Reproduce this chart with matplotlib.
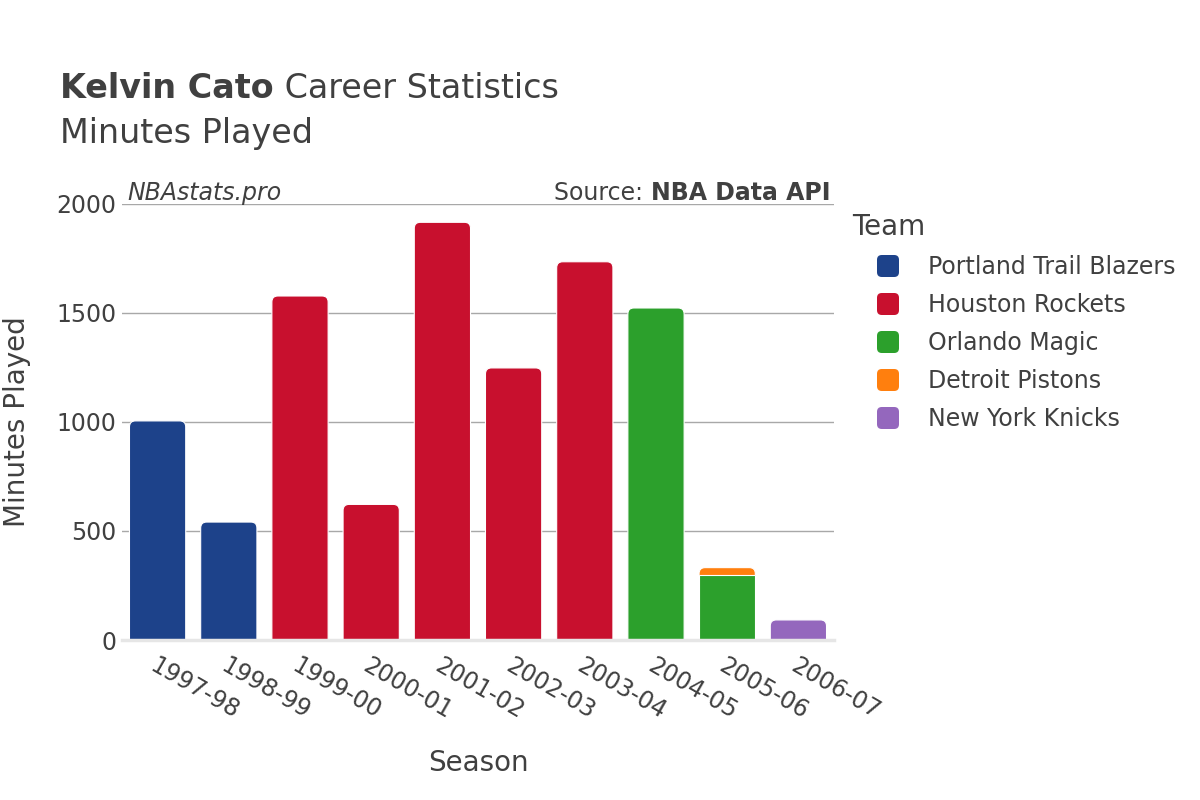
import numpy as np
import matplotlib.pyplot as plt
from matplotlib.patches import FancyBboxPatch

# season labels and minutes per team (0 = did not play for that team)
seasons = ['1997-98', '1998-99', '1999-00', '2000-01', '2001-02',
           '2002-03', '2003-04', '2004-05', '2005-06', '2006-07']
teams = ['Portland Trail Blazers', 'Houston Rockets', 'Orlando Magic',
         'Detroit Pistons', 'New York Knicks']
team_colors = ['#1d428a', '#c8102e', '#2ca02c', '#ff7f0e', '#9467bd']

portland = [1005, 541, 0, 0, 0, 0, 0, 0, 0, 0]
houston = [0, 0, 1578, 622, 1916, 1248, 1735, 0, 0, 0]
orlando = [0, 0, 0, 0, 0, 0, 0, 1523, 298, 0]
detroit = [0, 0, 0, 0, 0, 0, 0, 0, 34, 0]
new_york = [0, 0, 0, 0, 0, 0, 0, 0, 0, 92]

yticks = [0, 500, 1000, 1500, 2000]

text_color = '#404040'
W, H = 1200, 800
AX_L, AX_W, AX_TOP, AX_H = 122, 712, 204, 436

fig = plt.figure(figsize=(12, 8), dpi=100)
ax = fig.add_axes([AX_L / W, (H - AX_TOP - AX_H) / H, AX_W / W, AX_H / H])
ax.set_xlim(-0.5, len(seasons) - 0.5)
ax.set_ylim(0, 2000)

# pixel size of one data unit, used for rounded bar tops
px_x = AX_W / len(seasons)
px_y = AX_H / 2000
radius = 6
rx = radius / px_x
ry = radius / px_y

series = [portland, houston, orlando, detroit, new_york]
x = np.arange(len(seasons))
bottom = np.zeros(len(seasons))
top_team = [max([i for i, s in enumerate(series) if s[k] > 0]) for k in range(len(seasons))]

for ti, (vals, col) in enumerate(zip(series, team_colors)):
    vals = np.array(vals, dtype=float)
    bars = ax.bar(x, vals, width=0.79, bottom=bottom, color=col,
                  edgecolor='white', linewidth=0.8, zorder=3)
    for k, rect in enumerate(bars):
        if vals[k] <= 0:
            rect.set_visible(False)
            continue
        if top_team[k] == ti:
            # replace top segment with a box rounded at the top only
            rect.set_visible(False)
            bx, by = rect.get_x(), rect.get_y()
            bw, bh = rect.get_width(), rect.get_height()
            fb = FancyBboxPatch((bx, by - ry), bw, bh + ry,
                                boxstyle='round,pad=0,rounding_size=%f' % rx,
                                mutation_aspect=ry / rx,
                                facecolor=col, edgecolor='white',
                                linewidth=0.8, zorder=2)
            ax.add_patch(fb)
    bottom += vals

# grid and axes styling
ax.set_yticks(yticks)
ax.set_yticklabels([str(v) for v in yticks])
ax.yaxis.grid(True, color='#a8a8a8', linewidth=1)
ax.set_axisbelow(True)
ax.axhline(0, color='#e6e6e6', linewidth=2.5, zorder=4, clip_on=False)
for sp in ax.spines.values():
    sp.set_visible(False)
ax.tick_params(axis='both', length=0, labelsize=17, colors=text_color)
ax.tick_params(axis='y', pad=4)
ax.set_xticks(x)
ax.set_xticklabels(seasons, rotation=-30, ha='left', va='top',
                   rotation_mode='anchor')
ax.tick_params(axis='x', pad=10)

ax.set_xlabel('Season', fontsize=20, color=text_color, labelpad=18)
ax.set_ylabel('Minutes Played', fontsize=20, color=text_color, labelpad=18)

# titles
title = fig.text(60 / W, 1 - 89 / H, 'Kelvin Cato', fontsize=24, weight='bold',
                 color=text_color, va='center', ha='left')
fig.canvas.draw()
bb = title.get_window_extent()
fig.text(bb.x1 / W, 1 - 89 / H, ' Career Statistics', fontsize=24,
         color=text_color, va='center', ha='left')
fig.text(60 / W, 1 - 133 / H, 'Minutes Played', fontsize=24,
         color=text_color, va='center', ha='left')

ax.text(5 / AX_W, 1 - 1 / AX_H, 'NBAstats.pro', transform=ax.transAxes,
        fontsize=17, style='italic', color=text_color, ha='left', va='bottom')
src = ax.text(1 - 4 / AX_W, 1 - 1 / AX_H, 'NBA Data API',
              transform=ax.transAxes, fontsize=17, weight='bold',
              color=text_color, ha='right', va='bottom')
fig.canvas.draw()
sb = src.get_window_extent()
fig.text(sb.x0 / W, sb.y0 / H, 'Source: ', fontsize=17, color=text_color,
         ha='right', va='bottom')

# legend drawn by hand
fig.text(852 / W, 1 - 227 / H, 'Team', fontsize=20, color=text_color,
         ha='left', va='center')
for i, (name, col) in enumerate(zip(teams, team_colors)):
    yc = 266 + 38 * i
    box = FancyBboxPatch((877 / W, 1 - (yc + 11) / H), 22 / W, 22 / H,
                         boxstyle='round,pad=0,rounding_size=0.004',
                         mutation_aspect=W / H,
                         transform=fig.transFigure, facecolor=col,
                         edgecolor='none')
    fig.patches.append(box)
    fig.text(928 / W, 1 - (yc + 1) / H, name, fontsize=17, color=text_color,
             ha='left', va='center')

fig.savefig('out.png', dpi=100)
